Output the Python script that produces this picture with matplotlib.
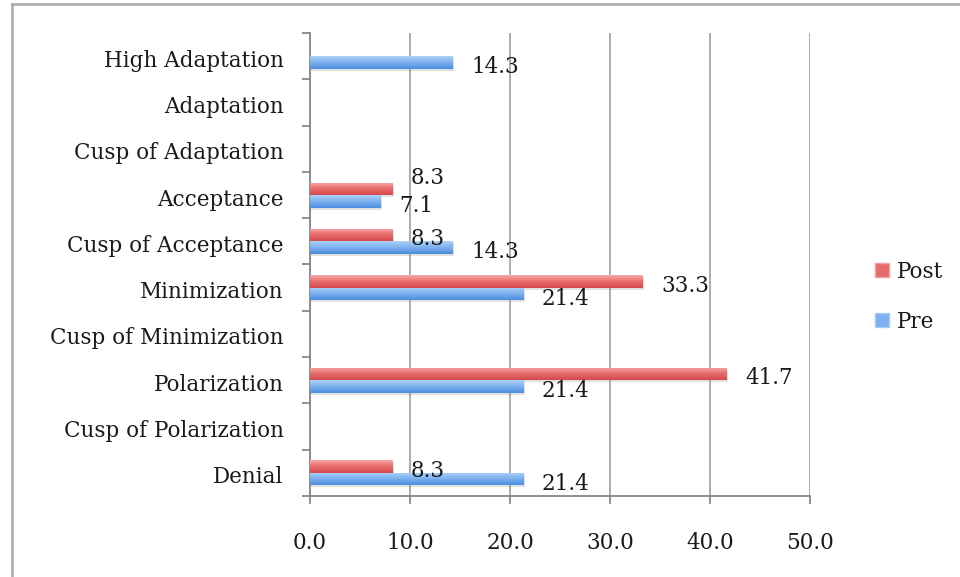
import numpy as np
import matplotlib
matplotlib.use("Agg")
import matplotlib.pyplot as plt
from matplotlib.colors import LinearSegmentedColormap
from matplotlib.lines import Line2D
import matplotlib.patheffects as pe
import matplotlib.transforms as mtransforms

# data (bottom to top)
stages = ["Denial", "Cusp of Polarization", "Polarization", "Cusp of Minimization",
          "Minimization", "Cusp of Acceptance", "Acceptance", "Cusp of Adaptation",
          "Adaptation", "High Adaptation"]
pre = [21.4, np.nan, 21.4, np.nan, 21.4, 14.3, 7.1, np.nan, np.nan, 14.3]
post = [8.3, np.nan, 41.7, np.nan, 33.3, 8.3, 8.3, np.nan, np.nan, np.nan]
xticks = [0, 10, 20, 30, 40, 50]

plt.rcParams['font.family'] = ['DejaVu Serif']
txt = '#1a1a1a'
fs = 15.5

fig = plt.figure(figsize=(9.6, 5.77), dpi=100)
ax = fig.add_axes([310/960, 1 - 496/577, 500/960, (496 - 33)/577])

y = np.arange(len(stages))
h = 0.27
red_cmap = LinearSegmentedColormap.from_list('r', ['#d4494a', '#e86b6b', '#f7a9a8'])
blue_cmap = LinearSegmentedColormap.from_list('b', ['#4a8ddf', '#7cb0ee', '#acd0f7'])

shadow = [pe.SimplePatchShadow(offset=(0.5, -1.5), shadow_rgbFace='#888888', alpha=0.25), pe.Normal()]
bars_post = ax.barh(y + h/2, post, height=h, color='#e86b6b', linewidth=0, zorder=3, path_effects=shadow)
bars_pre = ax.barh(y - h/2, pre, height=h, color='#7cb0ee', linewidth=0, zorder=3, path_effects=shadow)

grad = np.linspace(0, 1, 64).reshape(-1, 1)
for bars, cm in [(bars_post, red_cmap), (bars_pre, blue_cmap)]:
    for p in bars:
        x0, y0, w, hh = p.get_x(), p.get_y(), p.get_width(), p.get_height()
        if not np.isfinite(w):
            continue
        im = ax.imshow(grad, extent=[x0, x0 + w, y0, y0 + hh], origin='lower',
                       aspect='auto', cmap=cm, zorder=4, interpolation='bilinear')
        im.set_clip_path(p)

# value labels
for i in range(len(stages)):
    a, b = post[i], pre[i]
    if np.isfinite(a):
        dy = -3
        if np.isfinite(b) and abs(a - b) < 3:
            dy = 8
        ax.annotate(f"{a:.1f}", (a, y[i] + h/2), xytext=(13, dy), textcoords='offset points',
                    va='center', ha='left', fontsize=fs, color=txt, zorder=5)
    if np.isfinite(b):
        ax.annotate(f"{b:.1f}", (b, y[i] - h/2), xytext=(13, -3.5), textcoords='offset points',
                    va='center', ha='left', fontsize=fs, color=txt, zorder=5)

ax.set_xlim(0, 50)
ax.set_ylim(-0.5, len(stages) - 0.5)
ax.set_xticks(xticks)
ax.set_xticklabels([f"{v:.1f}" for v in xticks])
ax.set_yticks(y)
ax.set_yticklabels(stages)
ax.set_yticks(np.arange(len(stages) + 1) - 0.5, minor=True)

ax.tick_params(axis='y', which='major', length=0, pad=19, labelsize=fs, labelcolor=txt)
ax.tick_params(axis='y', which='minor', length=6, width=1.3, color='#888888', direction='out')
ax.tick_params(axis='x', which='major', length=6, width=1.3, color='#888888', pad=20,
               labelsize=fs, labelcolor=txt)
shift = mtransforms.ScaledTranslation(0, -2/100, fig.dpi_scale_trans)
for lab in ax.get_yticklabels():
    lab.set_transform(lab.get_transform() + shift)

ax.grid(axis='x', color='#a0a0a0', linewidth=1.2, zorder=0)
ax.set_axisbelow(True)
for s in ['top', 'right']:
    ax.spines[s].set_visible(False)
for s in ['left', 'bottom']:
    ax.spines[s].set_color('#888888')
    ax.spines[s].set_linewidth(1.3)

handles = [Line2D([], [], marker='s', linestyle='none', markersize=10.5, markerfacecolor='#e86b6b',
                  markeredgecolor='#f0a0a0'),
           Line2D([], [], marker='s', linestyle='none', markersize=10.5, markerfacecolor='#7cb0ee',
                  markeredgecolor='#a8ccf5')]
fig.legend(handles, ['Post', 'Pre'], loc='center left', bbox_to_anchor=(852/960, 1 - 297/577),
           frameon=False, fontsize=fs, labelspacing=1.3, handletextpad=0.2, handlelength=1.0,
           labelcolor=txt)

# outer frame (cropped: only top and left visible)
fig.add_artist(Line2D([12/960, 1], [1 - 4/577, 1 - 4/577], transform=fig.transFigure,
                      color='#aaaaaa', linewidth=1.8))
fig.add_artist(Line2D([12/960, 12/960], [0, 1 - 4/577], transform=fig.transFigure,
                      color='#aaaaaa', linewidth=1.8))

fig.savefig('out.png', dpi=100, facecolor='white')
